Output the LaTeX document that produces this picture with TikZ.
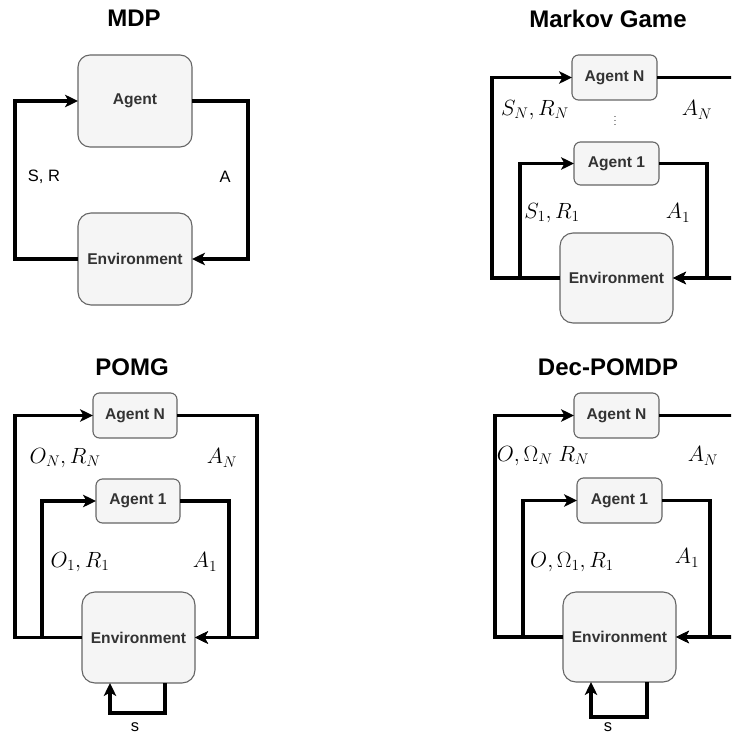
\RequirePackage{fix-cm}
\documentclass[tikz,border=0pt]{standalone}
\usepackage{amsmath}
\usepackage{fontspec}
\usepackage{tikz}
\usetikzlibrary{arrows.meta}
\usepackage{xcolor}
\newfontfamily\arialfont{Liberation Sans}
\definecolor{boxline}{HTML}{666666}
\definecolor{boxfill}{HTML}{F5F5F5}
\definecolor{boxtext}{HTML}{333333}
\tikzset{
  agentbox/.style   ={draw=boxline,fill=boxfill,line width=1.1pt,rounded corners=6.5pt,
                       text=boxtext,font=\arialfont\bfseries\fontsize{15.6}{18}\selectfont,
                       minimum width=85pt,minimum height=45pt,inner sep=0pt,outer sep=0pt},
  envbox/.style     ={agentbox,rounded corners=13pt,minimum width=113pt,minimum height=91pt},
  titletext/.style  ={font=\arialfont\bfseries\fontsize{24}{28}\selectfont,inner sep=0pt},
  sanslbl/.style    ={font=\arialfont\fontsize{16.5}{19}\selectfont,inner sep=0pt},
  mathlbl/.style    ={font=\fontsize{22}{26}\selectfont,inner sep=0pt},
  flow/.style       ={-{Stealth[length=13pt,width=12.5pt,inset=3.5pt]},line width=3.9pt},
}
\begin{document}
\begin{tikzpicture}[x=1pt,y=-1pt]
\useasboundingbox (0,0) rectangle (731,738);
\clip (0,0) rectangle (731,738);
% ---- MDP ----
\node[titletext] (tMDP) at (134,18.5) {MDP};
\node[agentbox,minimum width=114pt,minimum height=92pt,rounded corners=12pt] (agD) at (135,101) {Agent};
\node[envbox,minimum width=114pt,minimum height=92pt] (envD) at (135,259) {Environment};
\draw[flow] (envD.west) -- ++(-63,0) |- (agD.west);
\draw[flow] (agD.east) -- ++(56,0) |- (envD.east);
\node[sanslbl] (lSR) at (44,177) {S, R};
\node[sanslbl] (lA)  at (225,177) {A};
% ---- Markov Game ----
\node[titletext] (tMG) at (608,18.5) {Markov Game};
\node[agentbox] (agNM) at (614.5,77.5) {Agent N};
\node[inner sep=0pt,font=\fontsize{11}{12}\selectfont] (dotsM) at (615,118) {$\vdots$};
\node[agentbox,minimum height=43pt] (ag1M) at (616.5,163.5) {Agent 1};
\node[envbox,minimum height=90pt] (envM) at (616.5,278) {Environment};
\draw[flow] (envM.west) -- ++(-68,0) |- (agNM.west);
\draw[flow] (envM.west) -- ++(-40,0) |- (ag1M.west);
\draw[flow] (ag1M.east) -- ++(48,0) |- (envM.east);
\draw[flow] (agNM.east) -- ++(90,0) |- (envM.east);
\node[mathlbl] (lSNM) at (535,110) {$S_N, R_N$};
\node[mathlbl] (lANM) at (697,110) {$A_N$};
\node[mathlbl] (lS1M) at (552,213) {$S_1, R_1$};
\node[mathlbl] (lA1M) at (678,213) {$A_1$};
% ---- POMG ----
\node[titletext] (tPG) at (132,367.5) {POMG};
\node[agentbox,minimum width=84pt] (agNP) at (135,415.5) {Agent N};
\node[agentbox,minimum width=84pt,minimum height=44pt] (ag1P) at (138,501) {Agent 1};
\node[envbox] (envP) at (138.5,637.5) {Environment};
\draw[flow] (envP.west) -- ++(-67,0) |- (agNP.west);
\draw[flow] (envP.west) -- ++(-40,0) |- (ag1P.west);
\draw[flow] (ag1P.east) -- ++(49,0) |- (envP.east);
\draw[flow] (agNP.east) -- ++(80,0) |- (envP.east);
\draw[flow] ([xshift=26.5]envP.south) -- ++(0,30) -| ([xshift=-28.5]envP.south);
\node[sanslbl] (sP) at (135,727) {s};
\node[mathlbl] (lONP) at (65,458) {$O_N, R_N$};
\node[mathlbl] (lANP) at (222,458) {$A_N$};
\node[mathlbl] (lO1P) at (80,562) {$O_1, R_1$};
\node[mathlbl] (lA1P) at (205,562) {$A_1$};
% ---- Dec-POMDP ----
\node[titletext] (tDP) at (608,367.5) {Dec-POMDP};
\node[agentbox] (agNC) at (616.5,415.5) {Agent N};
\node[agentbox] (ag1C) at (619.5,500.5) {Agent 1};
\node[envbox,minimum height=90pt] (envC) at (619.5,637) {Environment};
\draw[flow] (envC.west) -- ++(-68,0) |- (agNC.west);
\draw[flow] (envC.west) -- ++(-40,0) |- (ag1C.west);
\draw[flow] (ag1C.east) -- ++(48,0) |- (envC.east);
\draw[flow] (agNC.east) -- ++(90,0) |- (envC.east);
\draw[flow] ([xshift=27.5]envC.south) -- ++(0,35) -| ([xshift=-28.5]envC.south);
\node[sanslbl] (sC) at (608,727) {s};
\node[mathlbl] (lONC) at (543,456) {$O, \Omega_N\; R_N$};
\node[mathlbl] (lANC) at (703,456) {$A_N$};
\node[mathlbl] (lO1C) at (572,562) {$O, \Omega_1, R_1$};
\node[mathlbl] (lA1C) at (687,558) {$A_1$};
\end{tikzpicture}
\end{document}
